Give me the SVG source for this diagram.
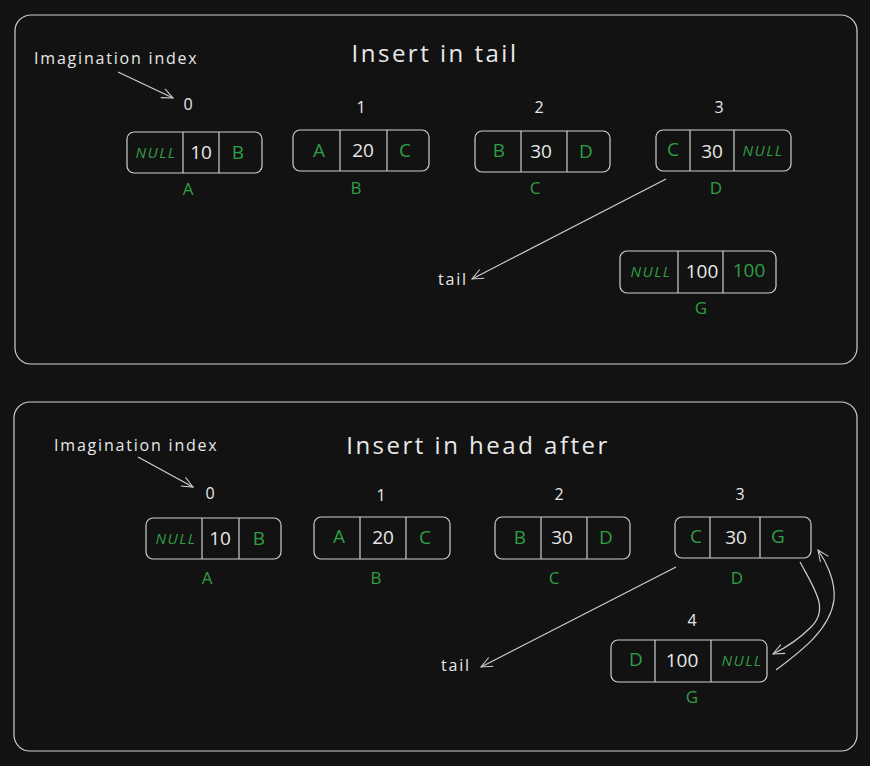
<svg xmlns="http://www.w3.org/2000/svg" width="870" height="766" viewBox="0 0 870 766">
<defs>
<style>
.frame{fill:none;stroke:#cfcfcf;stroke-width:1.2}
.box{fill:none;stroke:#cfcfcf;stroke-width:1.2}
.div{stroke:#cfcfcf;stroke-width:1.2}
.w{fill:#e8e8e8;font-family:"Open Sans","Liberation Sans",sans-serif;text-anchor:middle}
.g{fill:#2f9e44;font-family:"Open Sans","Liberation Sans",sans-serif;text-anchor:middle}
.v{font-size:19px}
.n{font-size:15px;font-style:italic;letter-spacing:1.5px}
.idx{font-size:16px}
.lbl{font-size:17px}
.title{font-size:24px;letter-spacing:2.5px}
.note{font-size:16px;text-anchor:start;letter-spacing:1.8px}
.conn{fill:none;stroke:#cfcfcf;stroke-width:1.2}
</style>
<marker id="ah" viewBox="0 0 20 20" refX="18" refY="10" markerWidth="14" markerHeight="14" orient="auto" markerUnits="userSpaceOnUse">
<path d="M2 3 L18 10 L2 17" fill="none" stroke="#cfcfcf" stroke-width="1.5"/>
</marker>
</defs>
<rect width="870" height="766" fill="#121212"/>

<g id="frame-top"><rect class="frame" x="15" y="15" width="842" height="349" rx="16"/></g>
<g id="frame-bottom"><rect class="frame" x="14" y="402" width="843" height="349" rx="16"/></g>

<g id="titles">
<text class="w title" x="435" y="62">Insert in tail</text>
<text class="w title" x="478" y="454">Insert in head after</text>
<text class="w note" x="34" y="64">Imagination index</text>
<text class="w note" x="54" y="451">Imagination index</text>
</g>

<!-- top section -->
<g id="top-A">
<text class="w idx" x="188" y="110">0</text>
<rect class="box" x="127" y="132" width="135" height="41" rx="7"/>
<line class="div" x1="183" y1="132" x2="183" y2="173"/><line class="div" x1="219" y1="132" x2="219" y2="173"/>
<text class="g n" x="156" y="158">NULL</text><text class="w v" x="201" y="159">10</text><text class="g v" x="238" y="159">B</text>
<text class="g lbl" x="188" y="195">A</text>
</g>
<g id="top-B">
<text class="w idx" x="361" y="113">1</text>
<rect class="box" x="293" y="130" width="136" height="41" rx="7"/>
<line class="div" x1="340" y1="130" x2="340" y2="171"/><line class="div" x1="387" y1="130" x2="387" y2="171"/>
<text class="g v" x="319" y="157">A</text><text class="w v" x="363" y="157">20</text><text class="g v" x="405" y="157">C</text>
<text class="g lbl" x="356" y="194">B</text>
</g>
<g id="top-C">
<text class="w idx" x="539" y="113">2</text>
<rect class="box" x="475" y="131" width="135" height="41" rx="7"/>
<line class="div" x1="521" y1="131" x2="521" y2="172"/><line class="div" x1="567" y1="131" x2="567" y2="172"/>
<text class="g v" x="499" y="157">B</text><text class="w v" x="541" y="158">30</text><text class="g v" x="586" y="158">D</text>
<text class="g lbl" x="535" y="194">C</text>
</g>
<g id="top-D">
<text class="w idx" x="719" y="113">3</text>
<rect class="box" x="656" y="130" width="135" height="41" rx="7"/>
<line class="div" x1="690" y1="130" x2="690" y2="171"/><line class="div" x1="734" y1="130" x2="734" y2="171"/>
<text class="g v" x="673" y="156">C</text><text class="w v" x="712" y="158">30</text><text class="g n" x="763" y="156">NULL</text>
<text class="g lbl" x="716" y="194">D</text>
</g>
<g id="top-G">
<rect class="box" x="620" y="251" width="156" height="42" rx="7"/>
<line class="div" x1="678" y1="251" x2="678" y2="293"/><line class="div" x1="723" y1="251" x2="723" y2="293"/>
<text class="g n" x="651" y="277">NULL</text><text class="w v" x="702" y="278">100</text><text class="g v" x="749" y="277">100</text>
<text class="g lbl" x="701" y="314">G</text>
</g>
<g id="top-tail"><text class="w note" x="438" y="285">tail</text></g>

<!-- bottom section -->
<g id="bot-A">
<text class="w idx" x="210" y="499">0</text>
<rect class="box" x="146" y="518" width="135" height="41" rx="7"/>
<line class="div" x1="202" y1="518" x2="202" y2="559"/><line class="div" x1="239" y1="518" x2="239" y2="559"/>
<text class="g n" x="176" y="544">NULL</text><text class="w v" x="220" y="545">10</text><text class="g v" x="259" y="545">B</text>
<text class="g lbl" x="207" y="584">A</text>
</g>
<g id="bot-B">
<text class="w idx" x="381" y="501">1</text>
<rect class="box" x="314" y="517" width="136" height="42" rx="7"/>
<line class="div" x1="360" y1="517" x2="360" y2="559"/><line class="div" x1="406" y1="517" x2="406" y2="559"/>
<text class="g v" x="339" y="543">A</text><text class="w v" x="383" y="544">20</text><text class="g v" x="425" y="544">C</text>
<text class="g lbl" x="376" y="584">B</text>
</g>
<g id="bot-C">
<text class="w idx" x="559" y="500">2</text>
<rect class="box" x="495" y="517" width="135" height="42" rx="7"/>
<line class="div" x1="541" y1="517" x2="541" y2="559"/><line class="div" x1="587" y1="517" x2="587" y2="559"/>
<text class="g v" x="520" y="544">B</text><text class="w v" x="562" y="544">30</text><text class="g v" x="606" y="544">D</text>
<text class="g lbl" x="554" y="584">C</text>
</g>
<g id="bot-D">
<text class="w idx" x="740" y="500">3</text>
<rect class="box" x="675" y="517" width="136" height="41" rx="7"/>
<line class="div" x1="710" y1="517" x2="710" y2="558"/><line class="div" x1="760" y1="517" x2="760" y2="558"/>
<text class="g v" x="696" y="543">C</text><text class="w v" x="736" y="544">30</text><text class="g v" x="778" y="543">G</text>
<text class="g lbl" x="737" y="584">D</text>
</g>
<g id="bot-G">
<text class="w idx" x="692" y="626">4</text>
<rect class="box" x="611" y="640" width="156" height="42" rx="7"/>
<line class="div" x1="655" y1="640" x2="655" y2="682"/><line class="div" x1="711" y1="640" x2="711" y2="682"/>
<text class="g v" x="636" y="666">D</text><text class="w v" x="682" y="667">100</text><text class="g n" x="742" y="666">NULL</text>
<text class="g lbl" x="692" y="703">G</text>
</g>
<g id="bot-tail"><text class="w note" x="441" y="671">tail</text></g>

<g id="connectors">
<path class="conn" d="M118 72 L173 98" marker-end="url(#ah)"/>
<path class="conn" d="M666 179 L472 279" marker-end="url(#ah)"/>
<path class="conn" d="M138 457 L193 487" marker-end="url(#ah)"/>
<path class="conn" d="M676 567 L481 667" marker-end="url(#ah)"/>
<path class="conn" d="M800 562 C815 590 830 610 810 628 C798 640 785 648 773 654" marker-end="url(#ah)"/>
<path class="conn" d="M776 670 C800 652 830 630 834 600 C836 580 825 560 818 550" marker-end="url(#ah)"/>
</g>
</svg>
